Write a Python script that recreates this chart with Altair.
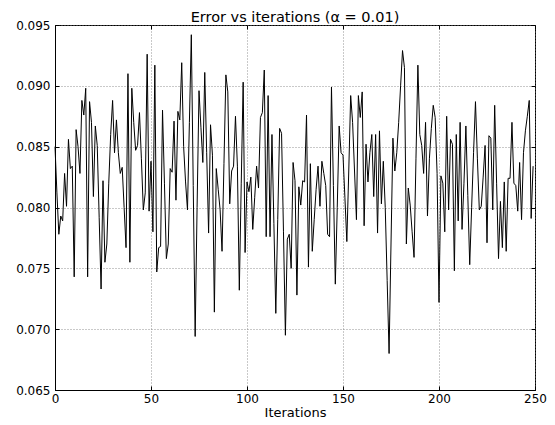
import altair as alt
import pandas as pd

iterations = list(range(250))
errors = [
    0.0850, 0.0812, 0.0778, 0.0793, 0.0789, 0.0828, 0.0801, 0.0856, 0.0832, 0.0834,
    0.0743, 0.0864, 0.0850, 0.0828, 0.0888, 0.0876, 0.0898, 0.0743, 0.0887, 0.0870,
    0.0809, 0.0867, 0.0851, 0.0792, 0.0733, 0.0822, 0.0755, 0.0770, 0.0820, 0.0860,
    0.0888, 0.0845, 0.0872, 0.0845, 0.0828, 0.0833, 0.0800, 0.0767, 0.0910, 0.0755,
    0.0898, 0.0870, 0.0847, 0.0851, 0.0878, 0.0840, 0.0798, 0.0812, 0.0926, 0.0797,
    0.0838, 0.0780, 0.0917, 0.0747, 0.0767, 0.0768, 0.0880, 0.0820, 0.0758, 0.0770,
    0.0832, 0.0829, 0.0871, 0.0806, 0.0879, 0.0872, 0.0919, 0.0850, 0.0821, 0.0798,
    0.0870, 0.0942, 0.0818, 0.0694, 0.0800, 0.0896, 0.0866, 0.0837, 0.0911, 0.0845,
    0.0779, 0.0868, 0.0843, 0.0714, 0.0832, 0.0815, 0.0798, 0.0764, 0.0836, 0.0909,
    0.0895, 0.0803, 0.0830, 0.0834, 0.0875, 0.0834, 0.0732, 0.0820, 0.0903, 0.0763,
    0.0821, 0.0813, 0.0825, 0.0782, 0.0808, 0.0834, 0.0816, 0.0874, 0.0878, 0.0913,
    0.0776, 0.0892, 0.0776, 0.0860, 0.0787, 0.0713, 0.0790, 0.0865, 0.0861, 0.0780,
    0.0695, 0.0774, 0.0778, 0.0750, 0.0837, 0.0822, 0.0728, 0.0817, 0.0802, 0.0822,
    0.0821, 0.0876, 0.0751, 0.0836, 0.0764, 0.0790, 0.0815, 0.0834, 0.0801, 0.0838,
    0.0828, 0.0818, 0.0778, 0.0776, 0.0899, 0.0818, 0.0737, 0.0800, 0.0867, 0.0845,
    0.0843, 0.0808, 0.0772, 0.0830, 0.0892, 0.0870, 0.0830, 0.0790, 0.0892, 0.0874,
    0.0895, 0.0785, 0.0852, 0.0821, 0.0845, 0.0860, 0.0809, 0.0860, 0.0779, 0.0863,
    0.0803, 0.0838, 0.0800, 0.0740, 0.0680, 0.0770, 0.0857, 0.0830, 0.0845, 0.0870,
    0.0900, 0.0929, 0.0915, 0.0770, 0.0816, 0.0802, 0.0780, 0.0759, 0.0840, 0.0917,
    0.0860, 0.0851, 0.0828, 0.0870, 0.0793, 0.0840, 0.0865, 0.0884, 0.0874, 0.0828,
    0.0722, 0.0826, 0.0820, 0.0780, 0.0875, 0.0798, 0.0856, 0.0852, 0.0748, 0.0860,
    0.0789, 0.0870, 0.0782, 0.0820, 0.0867, 0.0810, 0.0753, 0.0800, 0.0845, 0.0887,
    0.0840, 0.0798, 0.0801, 0.0825, 0.0851, 0.0771, 0.0859, 0.0857, 0.0798, 0.0884,
    0.0820, 0.0758, 0.0805, 0.0767, 0.0821, 0.0764, 0.0824, 0.0824, 0.0870, 0.0820,
    0.0818, 0.0797, 0.0837, 0.0790, 0.0845, 0.0863, 0.0875, 0.0888, 0.0791, 0.0834,
]
x_ticks = [0, 50, 100, 150, 200, 250]
y_ticks = [0.065, 0.070, 0.075, 0.080, 0.085, 0.090, 0.095]
title_text = "Error vs iterations (α = 0.01)"
x_title = "Iterations"

df = pd.DataFrame({"Iteration": iterations, "Error": errors})

FONT = "DejaVu Sans"
xscale = alt.Scale(domain=[0, 250], nice=False, zero=False)
yscale = alt.Scale(domain=[0.065, 0.095], nice=False, zero=False)

grid_style = dict(grid=True, gridDash=[1, 2], gridColor="#777777", gridWidth=0.8, gridOpacity=1)

main = alt.Chart(df).mark_line(color="black", strokeWidth=1).encode(
    x=alt.X("Iteration:Q", scale=xscale, title=x_title,
            axis=alt.Axis(values=x_ticks, format="d", orient="bottom", ticks=False,
                          labelPadding=3, labelFontSize=12, labelFont=FONT, labelColor="black",
                          titleFontSize=13, titleFont=FONT, titleColor="black",
                          titleFontWeight="normal", titlePadding=2,
                          domainColor="black", domainWidth=1, labelFlush=False, **grid_style)),
    y=alt.Y("Error:Q", scale=yscale, title="",
            axis=alt.Axis(values=y_ticks, format=".3f", orient="left", ticks=False,
                          labelPadding=5, labelFontSize=12, labelFont=FONT, labelColor="black",
                          domainColor="black", domainWidth=1, labelFlush=False, **grid_style)),
)

tick_style = dict(labels=False, domain=False, grid=False, ticks=True, tickSize=4,
                  tickColor="black", tickWidth=1, offset=-4)

inner_a = alt.Chart(df).mark_line(opacity=0).encode(
    x=alt.X("Iteration:Q", scale=xscale, title="",
            axis=alt.Axis(values=x_ticks, orient="bottom", **tick_style)),
    y=alt.Y("Error:Q", scale=yscale, title="",
            axis=alt.Axis(values=y_ticks, orient="left", **tick_style)),
)
inner_b = alt.Chart(df).mark_line(opacity=0).encode(
    x=alt.X("Iteration:Q", scale=xscale, title="",
            axis=alt.Axis(values=x_ticks, orient="top", **tick_style)),
    y=alt.Y("Error:Q", scale=yscale, title="",
            axis=alt.Axis(values=y_ticks, orient="right", **tick_style)),
)

chart = alt.layer(main, inner_a, inner_b).resolve_axis(
    x="independent", y="independent"
).properties(
    width=480,
    height=365,
    title=alt.TitleParams(title_text, fontSize=14.5, font=FONT, fontWeight="normal",
                          color="black", offset=4, anchor="middle", dy=10),
    autosize=alt.AutoSizeParams(type="none"),
    padding={"left": 47, "top": 17, "right": 12, "bottom": 32},
).configure_view(stroke="black", strokeWidth=1)

chart.save("out.html", embed_options={"renderer": "svg", "actions": False})
